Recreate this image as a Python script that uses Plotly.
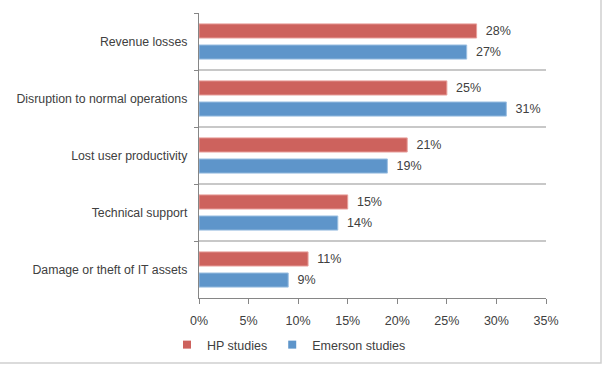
import plotly.graph_objects as go

categories = ["Revenue losses", "Disruption to normal operations", "Lost user productivity",
              "Technical support", "Damage or theft of IT assets"]
hp_values = [28, 25, 21, 15, 11]
emerson_values = [27, 31, 19, 14, 9]
x_ticks = [0, 5, 10, 15, 20, 25, 30, 35]
x_tick_labels = [f"{v}%" for v in x_ticks]

font = "Liberation Sans, Arial, sans-serif"
red, blue = "#CD625D", "#5E95CA"
fig = go.Figure()
fig.add_trace(go.Bar(
    y=categories, x=hp_values, orientation="h", name="HP studies", showlegend=False,
    marker=dict(color=red, line=dict(color="#E8A09C", width=1)),
    text=[f"\u2002{v}%" for v in hp_values], textposition="outside",
    textfont=dict(size=12.5, color="#404040", family=font), cliponaxis=False,
))
fig.add_trace(go.Bar(
    y=categories, x=emerson_values, orientation="h", name="Emerson studies", showlegend=False,
    marker=dict(color=blue, line=dict(color="#9DC0E2", width=1)),
    text=[f"\u2002{v}%" for v in emerson_values], textposition="outside",
    textfont=dict(size=12.5, color="#404040", family=font), cliponaxis=False,
))
for name, col in [("HP studies", red), ("Emerson studies", blue)]:
    fig.add_trace(go.Scatter(x=[None], y=[None], mode="markers", name=name,
                             marker=dict(symbol="square", size=8, color=col)))

W, H = 604, 366
L, R, T, B = 199, 58, 13, 68
pw, ph = W - L - R, H - T - B

fig.update_layout(
    width=W, height=H,
    margin=dict(l=L, r=R, t=T, b=B, pad=0),
    paper_bgcolor="white", plot_bgcolor="white",
    barmode="group", bargap=0.26, bargroupgap=0.33,
    font=dict(family=font, size=12, color="#404040"),
    showlegend=True,
    legend=dict(orientation="h", x=(289 - L) / pw, xanchor="center",
                yref="container", y=(H - 345) / H, yanchor="middle",
                bgcolor="rgba(0,0,0,0)",
                font=dict(size=12.5, color="#404040"), traceorder="normal",
                itemwidth=30, tracegroupgap=0),
    shapes=[dict(type="rect", xref="paper", yref="paper",
                 x0=-(L + 2) / pw, x1=(601 - L) / pw,
                 y0=-(363 - (T + ph)) / ph, y1=(T + ph + 2) / ph,
                 line=dict(color="#D0D0D0", width=1.5), fillcolor="rgba(0,0,0,0)", layer="below")],
)
fig.update_xaxes(
    range=[0, 35], tickvals=x_ticks, ticktext=x_tick_labels, automargin=False,
    showgrid=False, zeroline=False,
    showline=True, linecolor="#868686", linewidth=1.3,
    ticks="outside", ticklen=5, tickcolor="#868686",
    tickfont=dict(size=12.5, color="#404040"), ticklabelstandoff=6,
)
fig.update_yaxes(
    type="category", autorange="reversed", tickson="boundaries", automargin=False,
    showgrid=True, gridcolor="#C8C8C8", gridwidth=1.5,
    showline=True, linecolor="#868686", linewidth=1.3,
    ticks="outside", ticklen=4, tickcolor="#868686",
    tickfont=dict(size=12.3, color="#404040"), ticklabelstandoff=8,
)
fig.write_html("out.html", config={"displayModeBar": False},
               post_script="document.body.style.margin='0';")
